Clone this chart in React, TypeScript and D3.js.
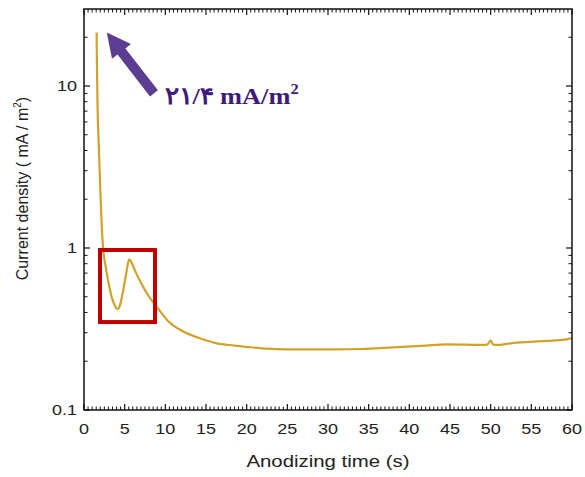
import React from "react";
import * as d3 from "d3";

const timeS = [1.55, 1.58, 1.63, 1.68, 1.8, 1.92, 2.05, 2.2, 2.35, 2.7, 3.1, 3.5, 3.8, 4.1, 4.4, 4.8, 5.2, 5.55, 5.8, 6.3, 7.0, 8.0, 9.0, 10.2, 12.2, 14, 16.3, 18.5, 20.4, 22.5, 25, 28, 31, 34, 36.4, 39, 42, 44.6, 47, 49.1, 49.6, 50.0, 50.3, 50.7, 52.5, 54.8, 57, 59.1, 60];
const density = [21.4, 15, 10, 7, 4.5, 3, 2.0, 1.3, 1.0, 0.75, 0.58, 0.48, 0.44, 0.42, 0.44, 0.54, 0.7, 0.85, 0.82, 0.72, 0.61, 0.5, 0.43, 0.36, 0.305, 0.28, 0.258, 0.25, 0.244, 0.239, 0.237, 0.237, 0.237, 0.238, 0.241, 0.245, 0.25, 0.254, 0.253, 0.252, 0.254, 0.268, 0.254, 0.252, 0.258, 0.263, 0.267, 0.272, 0.278];

const xTicks = [0, 5, 10, 15, 20, 25, 30, 35, 40, 45, 50, 55, 60];
const yTicks = [0.1, 1, 10];
const yTickLabels = ["0.1", "1", "10"];

const xLabel = "Anodizing time (s)";
const yLabel = "Current density ( mA / m";
const annotationText = "۲۱/۴ mA/m";

// highlight box (time range, density range)
const boxTime = [1.97, 8.73];
const boxDensity = [0.972, 0.349];
// arrow (tail -> tip) in data coords
const arrowTime = [8.6, 2.8];
const arrowDensity = [9.0, 21.4];
const labelAt = [10.0, 7.74];

const W = 585, H = 477;
const L = 84, R = 572, T = 9, B = 410;
const SX = 1.2; // horizontal stretch of the reference's text

export default function App() {
  const x = d3.scaleLinear().domain([0, 60]).range([L, R]);
  const y = d3.scaleLog().domain([0.1, Math.pow(10, (248 - 9) / 162)]).range([B, T]);

  const pts = timeS.map((t, i) => [t, density[i]] as [number, number]);
  const line = d3.line<[number, number]>().x(d => x(d[0])).y(d => y(d[1])).curve(d3.curveMonotoneX);

  const xMinor = d3.range(0, 60.01, 0.5).filter(v => Math.abs(v % 5) > 0.01);
  const yMinor: number[] = [];
  [0.1, 1, 10].forEach(dec => { for (let k = 2; k <= 9; k++) { const v = dec * k; if (v <= y.domain()[1]) yMinor.push(v); } });

  const major = 6, minor = 3.5;

  // arrow polygon
  const x0 = x(arrowTime[0]), y0 = y(arrowDensity[0]);
  const x1 = x(arrowTime[1]), y1 = y(arrowDensity[1]);
  const dx = x1 - x0, dy = y1 - y0;
  const len = Math.hypot(dx, dy);
  const ux = dx / len, uy = dy / len;
  const px = -uy, py = ux;
  const headLen = 24, headW = 12, shaftW = 5;
  const bx = x1 - ux * headLen, by = y1 - uy * headLen;
  const arrowPts = [
    [x0 + px * shaftW, y0 + py * shaftW],
    [bx + px * shaftW, by + py * shaftW],
    [bx + px * headW, by + py * headW],
    [x1, y1],
    [bx - px * headW, by - py * headW],
    [bx - px * shaftW, by - py * shaftW],
    [x0 - px * shaftW, y0 - py * shaftW],
  ].map(p => p.join(",")).join(" ");

  const font = "'Liberation Sans', Arial, sans-serif";

  return (
    <svg width={W} height={H} style={{ position: "absolute", left: 0, top: 0, background: "#fff" }} fontFamily={font}>
      <rect x={0} y={0} width={W} height={H} fill="#fff" />
      {/* curve */}
      <path d={line(pts) || ""} fill="none" stroke="#d0a22a" strokeWidth={2.2} />
      {/* highlight box */}
      <rect x={x(boxTime[0])} y={y(boxDensity[0])} width={x(boxTime[1]) - x(boxTime[0])} height={y(boxDensity[1]) - y(boxDensity[0])}
        fill="none" stroke="#c00000" strokeWidth={4} />
      {/* arrow */}
      <polygon points={arrowPts} fill="#5b3d91" />
      <text transform={`translate(${x(labelAt[0])},${y(labelAt[1])}) scale(1.1,1)`} fill="#3e1b7a"
        fontFamily="'Liberation Serif', 'Times New Roman', serif" fontWeight="bold" fontSize={24}>
        {annotationText}<tspan fontSize={15} dy={-10}>2</tspan>
      </text>
      {/* frame */}
      <rect x={L} y={T} width={R - L} height={B - T} fill="none" stroke="#111" strokeWidth={1.5} />
      {/* x ticks */}
      {xTicks.map(t => (
        <g key={"xt" + t}>
          <line x1={x(t)} x2={x(t)} y1={B} y2={B - major} stroke="#111" strokeWidth={1.2} />
          <line x1={x(t)} x2={x(t)} y1={T} y2={T + major} stroke="#111" strokeWidth={1.2} />
          <text transform={`translate(${x(t)},${B + 24}) scale(${SX},1)`} textAnchor="middle" fontSize={15} fill="#222">{t}</text>
        </g>
      ))}
      {xMinor.map(t => (
        <g key={"xm" + t}>
          <line x1={x(t)} x2={x(t)} y1={B} y2={B - minor} stroke="#111" strokeWidth={1} />
          <line x1={x(t)} x2={x(t)} y1={T} y2={T + minor} stroke="#111" strokeWidth={1} />
        </g>
      ))}
      {/* y ticks */}
      {yTicks.map((v, i) => (
        <g key={"yt" + v}>
          <line x1={L} x2={L + major} y1={y(v)} y2={y(v)} stroke="#111" strokeWidth={1.2} />
          <line x1={R} x2={R - major} y1={y(v)} y2={y(v)} stroke="#111" strokeWidth={1.2} />
          <text transform={`translate(${L - 7},${y(v) + 5}) scale(${SX},1)`} textAnchor="end" fontSize={15} fill="#222">{yTickLabels[i]}</text>
        </g>
      ))}
      {yMinor.map(v => (
        <g key={"ym" + v}>
          <line x1={L} x2={L + minor} y1={y(v)} y2={y(v)} stroke="#111" strokeWidth={1} />
          <line x1={R} x2={R - minor} y1={y(v)} y2={y(v)} stroke="#111" strokeWidth={1} />
        </g>
      ))}
      {/* axis labels */}
      <text transform={`translate(${(L + R) / 2},467) scale(${SX},1)`} textAnchor="middle" fontSize={17} fill="#222">{xLabel}</text>
      <text transform={`translate(28,${(T + B) / 2 - 21}) rotate(-90)`} textAnchor="middle" fontSize={16} fill="#222">
        {yLabel}<tspan fontSize={10} dy={-7}>2</tspan><tspan dy={7}>)</tspan>
      </text>
    </svg>
  );
}
